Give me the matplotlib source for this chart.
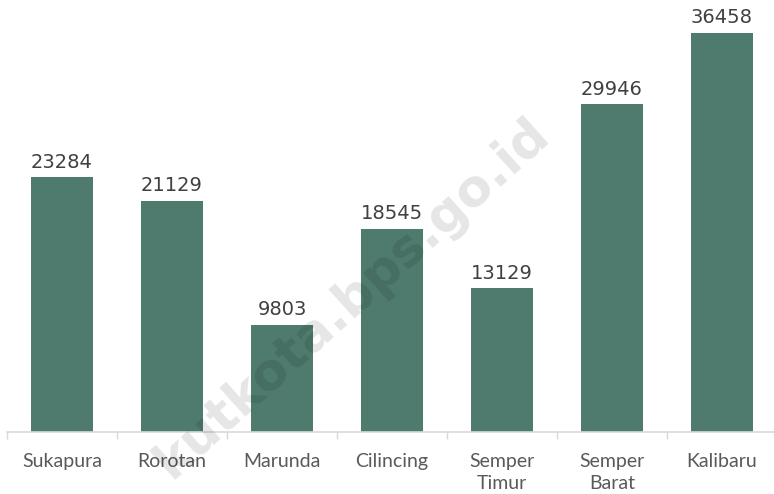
import matplotlib
matplotlib.use("Agg")
import matplotlib.pyplot as plt
import numpy as np

categories = ["Sukapura", "Rorotan", "Marunda", "Cilincing", "Semper\nTimur", "Semper\nBarat", "Kalibaru"]
values = [23284, 21129, 9803, 18545, 13129, 29946, 36458]

W, H = 774, 494
fig = plt.figure(figsize=(W/100, H/100), dpi=100)
# axes in pixel coords: left 7, right 777, bottom at y=432 (from top), top at y=0
ax = fig.add_axes([7/W, (H-432)/H, 770/W, 432/H])
fig.patch.set_facecolor("white")

x = np.arange(len(categories))
ax.bar(x, values, width=0.565, color="#4f7a6e", zorder=2)
ax.set_xlim(-0.5, len(categories) - 0.5)
ax.set_ylim(0, 432 / (399 / 36458))

for xi, v in zip(x, values):
    ax.annotate(f"{v}", (xi, v), xytext=(0, 4), textcoords="offset points",
                ha="center", va="bottom", fontsize=14, color="#404040",
                family="DejaVu Sans")

for s in ["top", "right", "left"]:
    ax.spines[s].set_visible(False)
ax.spines["bottom"].set_color("#d9d9d9")
ax.spines["bottom"].set_linewidth(1.2)
ax.set_yticks([])
ax.set_xticks(np.arange(len(categories) + 1) - 0.5, minor=True)
ax.tick_params(axis="x", which="minor", length=5, color="#d9d9d9", width=1)
ax.set_xticks(x)
ax.set_xticklabels(categories, fontsize=14, color="#595959", family="Lato", linespacing=1.4)
ax.tick_params(axis="x", which="major", length=0, pad=15)

fig.text(352/W, 1 - 298/H, "kutkota.bps.go.id", rotation=42, fontsize=37, fontweight="bold",
         color="black", alpha=0.1, ha="center", va="center", family="DejaVu Sans", zorder=10)

fig.savefig("out.png", dpi=100)
